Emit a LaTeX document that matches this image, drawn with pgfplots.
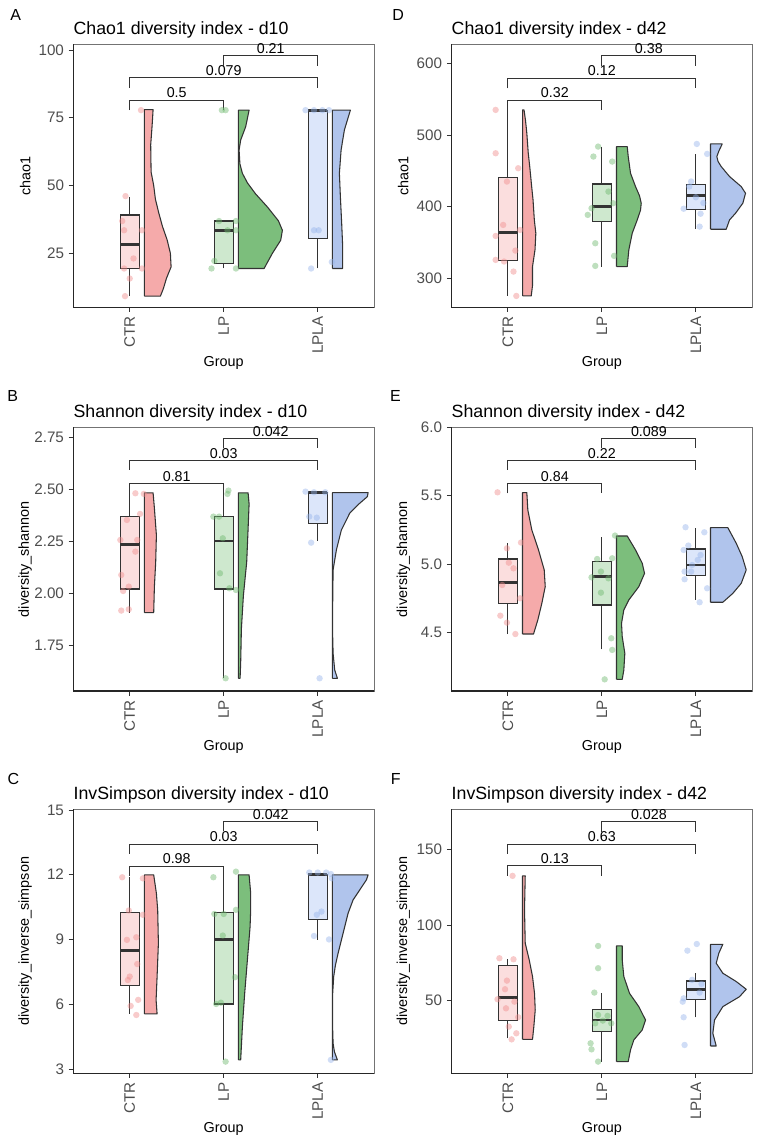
\documentclass[border=0pt]{standalone}
\usepackage{fontspec}
\setmainfont{Liberation Sans}
\usepackage{pgfplots}
\pgfplotsset{compat=1.18}

\definecolor{outl}{HTML}{333333}
\definecolor{pinkV}{RGB}{245,170,170}
\definecolor{greenV}{RGB}{124,190,124}
\definecolor{blueV}{RGB}{176,196,236}
\definecolor{pinkB}{RGB}{251,222,222}
\definecolor{greenB}{RGB}{206,232,206}
\definecolor{blueB}{RGB}{220,230,250}
\definecolor{pinkP}{RGB}{240,140,140}
\definecolor{greenP}{RGB}{110,185,110}
\definecolor{blueP}{RGB}{150,180,235}
\definecolor{tickgray}{HTML}{4D4D4D}

\newcommand\tickfont{\fontsize{11.4pt}{13pt}\selectfont}
\newcommand\labfont{\fontsize{10.8pt}{12pt}\selectfont}
\newcommand\titlefont{\fontsize{13.3pt}{15pt}\selectfont}
\newcommand\pvfont{\fontsize{10.7pt}{12pt}\selectfont}
\newcommand\letfont{\fontsize{12pt}{14pt}\selectfont}

% violin: colour, category, table rows (v = value, w = half-width in px)
\newcommand{\vio}[3]{\addplot[draw=outl, line width=0.8pt, fill=#1, line join=round] table[row sep=\\, x expr={#2+0.156+\thisrow{w}/94}, y=v] {v w\\ #3};}
% box: position, fill, lower whisker, q1, med, q3, upper whisker
\newcommand{\bx}[7]{%
\addplot[draw=outl, line width=0.9pt] table[row sep=\\, x expr={#1+\thisrow{d}}, y=v] {d v\\ 0 #3\\ 0 #4\\};
\addplot[draw=outl, line width=0.9pt] table[row sep=\\, x expr={#1+\thisrow{d}}, y=v] {d v\\ 0 #6\\ 0 #7\\};
\addplot[draw=outl, line width=0.9pt, fill=#2] table[row sep=\\, x expr={#1+\thisrow{d}}, y=v] {d v\\ -0.1 #4\\ 0.1 #4\\ 0.1 #6\\ -0.1 #6\\ -0.1 #4\\};
\addplot[draw=outl, line width=2.2pt] table[row sep=\\, x expr={#1+\thisrow{d}}, y=v] {d v\\ -0.1 #5\\ 0.1 #5\\};}
% jittered points
\newcommand{\pts}[2]{\addplot[only marks, mark=*, mark size=2.4pt, color=#1, draw opacity=0, fill opacity=0.45] coordinates {#2};}
% bracket: x1, x2, xmid, line, tip, label
\newcommand{\brk}[6]{\addplot[draw=outl, line width=0.6pt] coordinates {(#1,#5) (#1,#4) (#2,#4) (#2,#5)};
\node[anchor=base, yshift=1.6pt, inner sep=0pt, font=\pvfont] at (axis cs:#3,#4) {#6};}

\pgfplotsset{
  raincloud/.style={
    scale only axis, width=225.6pt, anchor=south west,
    xmin=0.4, xmax=3.6,
    xtick={1,2,3}, xticklabels={CTR,LP,LPLA},
    x tick label style={rotate=90, anchor=east, font=\tickfont, text=tickgray},
    y tick label style={font=\tickfont, text=tickgray},
    tick align=outside, xtick pos=bottom, ytick pos=left,
    major tick length=3.5pt, tick style={color=outl, line width=0.6pt},
    axis line style={draw=black!55, line width=0.5pt},
    clip=false,
    xlabel={Group},
    xlabel style={font=\labfont, at={(axis description cs:0.5,-0.224)}, anchor=base},
    ylabel style={font=\labfont, at={(axis description cs:-0.16,0.5)}, anchor=center},
    every axis title/.style={at={(axis description cs:0,1)}, anchor=base west, yshift=7.5pt, inner sep=0pt, font=\titlefont},
    /pgf/number format/assume math mode=true,
  },
}
\newcommand{\darkaxes}{\draw[black!85, line width=0.9pt] (axis description cs:0,1) -- (axis description cs:0,0) -- (axis description cs:1,0);}

\begin{document}
\begin{tikzpicture}
\path (0,0) rectangle (567.75pt,857.25pt);

% panel letters
\node[anchor=base west, inner sep=0pt, font=\letfont] at (7.5pt,841.7pt) {A};
\node[anchor=base west, inner sep=0pt, font=\letfont] at (5.3pt,556pt) {B};
\node[anchor=base west, inner sep=0pt, font=\letfont] at (5.5pt,269.2pt) {C};
\node[anchor=base west, inner sep=0pt, font=\letfont] at (294pt,841.7pt) {D};
\node[anchor=base west, inner sep=0pt, font=\letfont] at (292.3pt,556pt) {E};
\node[anchor=base west, inner sep=0pt, font=\letfont] at (293pt,269.2pt) {F};

% ---------------- A ----------------
\begin{axis}[raincloud, at={(55pt,626.8pt)}, height=197.25pt,
  ymin=5.1, ymax=102.1, ytick={25,50,75,100},
  ylabel={chao1}, title={Chao1 diversity index - d10}]
\vio{pinkV}{1}{9.2 0\\ 9.2 16\\ 12 19\\ 15.7 22\\ 20 26.7\\ 25 26\\ 30 22.7\\ 35 18\\ 40 14.3\\ 45 11\\ 50 9.3\\ 55 6.7\\ 65 6.3\\ 72 7.7\\ 78 8.7\\ 78 0\\ 9.2 0\\}
\vio{greenV}{2}{19.4 0\\ 19.4 25.7\\ 25 34\\ 29.8 42.3\\ 33.5 44\\ 37 40\\ 42.1 29\\ 47 17\\ 51 9\\ 54.5 4\\ 58 1.5\\ 63.1 0.7\\ 66.8 2.3\\ 71.7 7.3\\ 77.8 10.7\\ 77.8 0\\ 19.4 0\\}
\vio{blueV}{3}{19.4 0\\ 19.4 10.3\\ 27.4 10.3\\ 36 9.3\\ 45.8 8\\ 54.5 7\\ 63.1 8.7\\ 70.5 12\\ 77.8 18\\ 77.8 0\\ 19.4 0\\}
\bx{1}{pinkB}{9.2}{19.4}{28.25}{39.1}{45.6}
\bx{2}{greenB}{19.4}{21.2}{33.5}{36.9}{36.9}
\bx{3}{blueB}{19.4}{30.5}{77.8}{77.8}{77.8}
\pts{pinkP}{(1.12,77.8) (0.955,46.1) (0.92,36.9) (0.94,33.5) (1.13,33.5) (1.04,23.1) (0.94,19.4) (1.13,19.4) (1.0,15.7) (0.95,9.2)}
\pts{greenP}{(1.98,77.8) (2.02,77.8) (1.95,36.9) (2.13,36.9) (2.04,33.5) (2.13,33.5) (1.9,22.2) (1.87,19.4) (2.13,19.4)}
\pts{blueP}{(2.87,77.8) (2.96,77.8) (3.05,77.8) (3.12,77.8) (2.96,33.5) (3.01,33.5) (2.93,19.4) (3.15,21.8)}
\brk{1}{2}{1.5}{81.5}{77.8}{0.5}
\brk{1}{3}{2}{89.7}{86.0}{0.079}
\brk{2}{3}{2.5}{97.9}{94.2}{0.21}
\darkaxes
\end{axis}

% ---------------- D ----------------
\begin{axis}[raincloud, at={(338.6pt,626.8pt)}, height=197.25pt,
  ymin=259.5, ymax=626.5, ytick={300,400,500,600},
  ylabel={chao1}, title={Chao1 diversity index - d42}]
\vio{pinkV}{1}{275.3 0\\ 275.3 8.7\\ 290 10\\ 316.3 10\\ 340 12.5\\ 362.8 13.3\\ 381.4 11.8\\ 409.3 10.5\\ 430 9\\ 455.8 7.2\\ 475 5.7\\ 502.3 4.3\\ 520 3\\ 534.9 1.5\\ 534.9 0\\ 275.3 0\\}
\vio{greenV}{2}{316.3 0\\ 316.3 10.7\\ 339.5 12.3\\ 362.8 15.7\\ 381.4 20.7\\ 395 24\\ 404.7 24.7\\ 415 23\\ 427.9 19\\ 446.5 14\\ 469.8 11.7\\ 483.7 10.7\\ 483.7 0\\ 316.3 0\\}
\vio{blueV}{3}{368.4 0\\ 368.4 15.7\\ 381.4 19\\ 390.7 25\\ 404.7 32.3\\ 418.6 35\\ 427.9 30.7\\ 441.9 19\\ 455.8 10.7\\ 463 7.5\\ 469.8 6.3\\ 478 8.5\\ 487.4 11.7\\ 487.4 0\\ 368.4 0\\}
\bx{1}{pinkB}{275.3}{324.7}{363.3}{440.5}{534.9}
\bx{2}{greenB}{316.3}{379.1}{400}{431.6}{483.7}
\bx{3}{blueB}{368.4}{396.3}{415.3}{431.2}{473.5}
\pts{pinkP}{(0.87,534.9) (0.87,474.4) (1.11,453.5) (0.99,434.9) (0.95,374.4) (0.87,359) (1.13,367.4) (1.08,338.6) (0.87,325.6) (0.96,323.3) (1.06,309.3) (1.09,275.3)}
\pts{greenP}{(1.96,483.7) (1.91,469.8) (2.11,462.8) (2.07,420.9) (1.89,397.7) (1.85,388.4) (2.12,404.7) (1.93,348.8) (2.13,331.2) (1.93,317.2)}
\pts{blueP}{(3.01,487.4) (3.12,473.5) (2.95,435) (2.93,428) (3.0,413) (3.08,405) (2.87,397) (3.05,390) (3.04,372)}
\brk{1}{2}{1.5}{548.8}{534.9}{0.32}
\brk{1}{3}{2}{579.5}{565.1}{0.12}
\brk{2}{3}{2.5}{610.7}{596.7}{0.38}
\darkaxes
\end{axis}

% ---------------- B ----------------
\begin{axis}[raincloud, at={(55pt,339pt)}, height=197.8pt,
  ymin=1.532, ymax=2.798, ytick={1.75,2,2.25,2.5,2.75},
  yticklabels={1.75,2.00,2.25,2.50,2.75},
  ylabel={diversity\_shannon}, title={Shannon diversity index - d10}]
\vio{pinkV}{1}{1.908 0\\ 1.908 9.3\\ 2.033 10\\ 2.15 11.3\\ 2.28 12\\ 2.41 10\\ 2.483 8.7\\ 2.483 0\\ 1.908 0\\}
\vio{greenV}{2}{1.593 0\\ 1.593 1.7\\ 1.67 2.3\\ 1.83 3\\ 1.99 5\\ 2.15 8.3\\ 2.31 9.7\\ 2.43 10.7\\ 2.483 9.7\\ 2.483 0\\ 1.593 0\\}
\vio{blueV}{3}{1.593 0\\ 1.593 5\\ 1.633 2.3\\ 1.713 0.7\\ 1.793 0.3\\ 1.953 0.3\\ 2.113 0.7\\ 2.209 4\\ 2.305 9\\ 2.385 17.3\\ 2.433 27.3\\ 2.465 35\\ 2.484 35.7\\ 2.484 0\\ 1.593 0\\}
\bx{1}{pinkB}{1.908}{2.022}{2.233}{2.369}{2.481}
\bx{2}{greenB}{1.593}{2.022}{2.252}{2.369}{2.494}
\bx{3}{blueB}{2.254}{2.337}{2.484}{2.484}{2.484}
\pts{pinkP}{(1.06,2.481) (1.15,2.478) (1.11,2.382) (0.97,2.353) (0.9,2.257) (1.08,2.257) (1.06,2.201) (0.91,2.089) (0.99,2.033) (0.93,2.012) (0.91,1.918) (0.99,1.924)}
\pts{greenP}{(2.05,2.494) (2.04,2.478) (1.89,2.369) (1.95,2.369) (1.99,2.265) (1.96,2.097) (2.06,2.025) (2.13,2.017) (2.02,1.593)}
\pts{blueP}{(2.87,2.489) (2.96,2.486) (3.08,2.486) (2.91,2.369) (2.99,2.364) (2.93,2.244) (3.02,1.593)}
\brk{1}{2}{1.5}{2.529}{2.481}{0.81}
\brk{1}{3}{2}{2.638}{2.593}{0.03}
\brk{2}{3}{2.5}{2.745}{2.697}{0.042}
\darkaxes
\end{axis}

% ---------------- E ----------------
\begin{axis}[raincloud, at={(338.6pt,339pt)}, height=197.8pt,
  ymin=4.074, ymax=6.0, ytick={4.5,5,5.5,6},
  yticklabels={4.5,5.0,5.5,6.0},
  ylabel={diversity\_shannon}, title={Shannon diversity index - d42}]
\vio{pinkV}{1}{4.49 0\\ 4.49 11\\ 4.593 15.3\\ 4.714 19.3\\ 4.836 22.7\\ 4.958 21.7\\ 5.104 16\\ 5.25 9.3\\ 5.396 5.3\\ 5.523 4.3\\ 5.523 0\\ 4.49 0\\}
\vio{greenV}{2}{4.159 0\\ 4.159 5.7\\ 4.227 7.3\\ 4.349 8.3\\ 4.471 5.7\\ 4.568 5\\ 4.666 7.3\\ 4.739 12.3\\ 4.836 22.3\\ 4.933 28\\ 5.007 25.7\\ 5.104 19\\ 5.206 10.7\\ 5.206 0\\ 4.159 0\\}
\vio{blueV}{3}{4.722 0\\ 4.722 12.3\\ 4.787 22.3\\ 4.86 30.7\\ 4.958 35.7\\ 5.055 31.7\\ 5.153 25.7\\ 5.267 17.3\\ 5.267 0\\ 4.722 0\\}
\bx{1}{pinkB}{4.49}{4.714}{4.868}{5.038}{5.158}
\bx{2}{greenB}{4.378}{4.702}{4.909}{5.019}{5.201}
\bx{3}{blueB}{4.739}{4.917}{4.994}{5.111}{5.262}
\pts{pinkP}{(0.89,5.525) (0.99,5.116) (1.14,5.158) (1.01,5.011) (1.06,4.97) (0.94,4.848) (1.13,4.751) (0.92,4.624) (0.99,4.573) (1.08,4.49)}
\pts{greenP}{(2.14,5.209) (2.11,5.043) (1.95,5.038) (1.99,4.946) (1.89,4.904) (2.07,4.897) (1.99,4.792) (2.1,4.459) (2.11,4.374) (2.03,4.159)}
\pts{blueP}{(2.89,5.27) (3.09,5.233) (2.92,5.136) (2.87,5.104) (3.05,5.067) (3.02,5.031) (2.96,4.994) (2.88,4.946) (2.95,4.946) (2.88,4.89) (3.12,4.824) (3.04,4.722)}
\brk{1}{2}{1.5}{5.591}{5.518}{0.84}
\brk{1}{3}{2}{5.757}{5.688}{0.22}
\brk{2}{3}{2.5}{5.92}{5.847}{0.089}
\darkaxes
\end{axis}

% ---------------- C ----------------
\begin{axis}[raincloud, at={(55pt,52.3pt)}, height=198pt,
  ymin=2.8, ymax=15.03, ytick={3,6,9,12,15},
  ylabel={diversity\_inverse\_simpson}, title={InvSimpson diversity index - d10}]
\vio{pinkV}{1}{5.55 0\\ 5.55 12.7\\ 6.197 11.7\\ 7.278 12.7\\ 8.822 14\\ 10.367 13.3\\ 11.139 12\\ 11.99 9.3\\ 11.99 0\\ 5.55 0\\}
\vio{greenV}{2}{3.42 0\\ 3.42 2.3\\ 4.961 4\\ 6.506 6.3\\ 8.05 9\\ 9.595 11.7\\ 10.37 12.3\\ 11.14 12.3\\ 11.99 10.7\\ 11.99 0\\ 3.42 0\\}
\vio{blueV}{3}{3.42 0\\ 3.42 5\\ 3.8 2\\ 4.189 0.7\\ 4.961 0.2\\ 6.506 0.3\\ 7.278 1.3\\ 7.8 3\\ 8.359 5.7\\ 9.286 10.7\\ 10.212 15.7\\ 10.83 20.7\\ 11.29 27.3\\ 11.757 34\\ 11.99 35.7\\ 11.99 0\\ 3.42 0\\}
\bx{1}{pinkB}{5.55}{6.88}{8.48}{10.26}{11.88}
\bx{2}{greenB}{3.42}{6.01}{8.98}{10.26}{12.14}
\bx{3}{blueB}{8.98}{9.93}{11.99}{11.99}{11.99}
\pts{pinkP}{(0.92,11.88) (1.14,11.83) (0.99,10.34) (1.14,10.14) (0.97,8.98) (1.07,9.1) (1.08,7.86) (1.0,7.28) (0.98,7.12) (1.09,6.2) (1.01,5.92) (1.07,5.5)}
\pts{greenP}{(1.89,11.88) (2.13,12.14) (1.9,10.18) (2.0,10.18) (2.13,10.37) (1.99,9.18) (2.12,7.25) (1.97,6.07) (1.92,6.01) (2.02,3.34)}
\pts{blueP}{(2.91,12.1) (3.0,12.1) (3.09,12.1) (3.14,12.03) (3.15,11.83) (2.99,10.14) (3.04,10.29) (2.96,9.16) (3.12,9.0) (3.14,3.42)}
\brk{1}{2}{1.5}{12.405}{11.94}{0.98}
\brk{1}{3}{2}{13.425}{12.96}{0.03}
\brk{2}{3}{2.5}{14.46}{14.0}{0.042}
\darkaxes
\end{axis}

% ---------------- F ----------------
\begin{axis}[raincloud, at={(338.6pt,52.3pt)}, height=198pt,
  ymin=2.0, ymax=176.4, ytick={50,100,150},
  ylabel={diversity\_inverse\_simpson}, title={InvSimpson diversity index - d42}]
\vio{pinkV}{1}{24.4 0\\ 24.4 10\\ 32.8 11.3\\ 43.8 12.7\\ 54.8 12\\ 65.9 10\\ 76.9 6.7\\ 87.9 2.7\\ 109.9 2\\ 132.4 2.7\\ 132.4 0\\ 24.4 0\\}
\vio{greenV}{2}{9.7 0\\ 9.7 11.7\\ 17.4 14\\ 24 17.3\\ 30.6 25.7\\ 37.2 29\\ 46 22.3\\ 54.8 13\\ 65.9 7.3\\ 76.9 5.7\\ 86.1 5.7\\ 86.1 0\\ 9.7 0\\}
\vio{blueV}{3}{20 0\\ 20 5.7\\ 28.4 2.3\\ 37.2 4\\ 46 12.3\\ 52.6 29\\ 57.5 35.7\\ 62.6 25.7\\ 68.1 12.3\\ 74.7 5.7\\ 81.3 8.3\\ 87.2 12.3\\ 87.2 0\\ 20 0\\}
\bx{1}{pinkB}{25.1}{36.8}{52.2}{73.1}{77.3}
\bx{2}{greenB}{9.7}{29.5}{37.2}{44.3}{54.8}
\bx{3}{blueB}{39}{50.9}{57.5}{63}{68.1}
\pts{pinkP}{(0.91,78) (1.06,77.3) (0.99,63.2) (0.97,57.5) (1.07,49.3) (0.89,50.9) (0.98,44.9) (1.11,39) (1.01,32.8) (1.09,28.4) (1.04,24.4) (1.05,132.4)}
\pts{greenP}{(1.96,86.1) (1.96,71.4) (1.92,55.3) (1.96,40.5) (2.06,39.9) (2.01,36.8) (2.1,35) (1.93,35) (1.88,21.8) (1.89,17.8) (1.96,9.7)}
\pts{blueP}{(3.01,87.4) (2.91,83) (2.96,63.7) (3.06,61) (3.04,55.3) (2.87,51.5) (2.86,49.3) (2.87,39) (2.88,20.7)}
\brk{1}{2}{1.5}{139}{132.4}{0.13}
\brk{1}{3}{2}{153.5}{146.9}{0.63}
\brk{2}{3}{2.5}{168.3}{161.7}{0.028}
\darkaxes
\end{axis}

% mask a stray rule beside the middle row's x axes (drawn last)
\fill[white] (0pt,336pt) rectangle (54.4pt,342.5pt);
\fill[white] (281.1pt,336pt) rectangle (338.0pt,342.5pt);
\fill[white] (564.7pt,336pt) rectangle (567.75pt,342.5pt);
\end{tikzpicture}
\end{document}
